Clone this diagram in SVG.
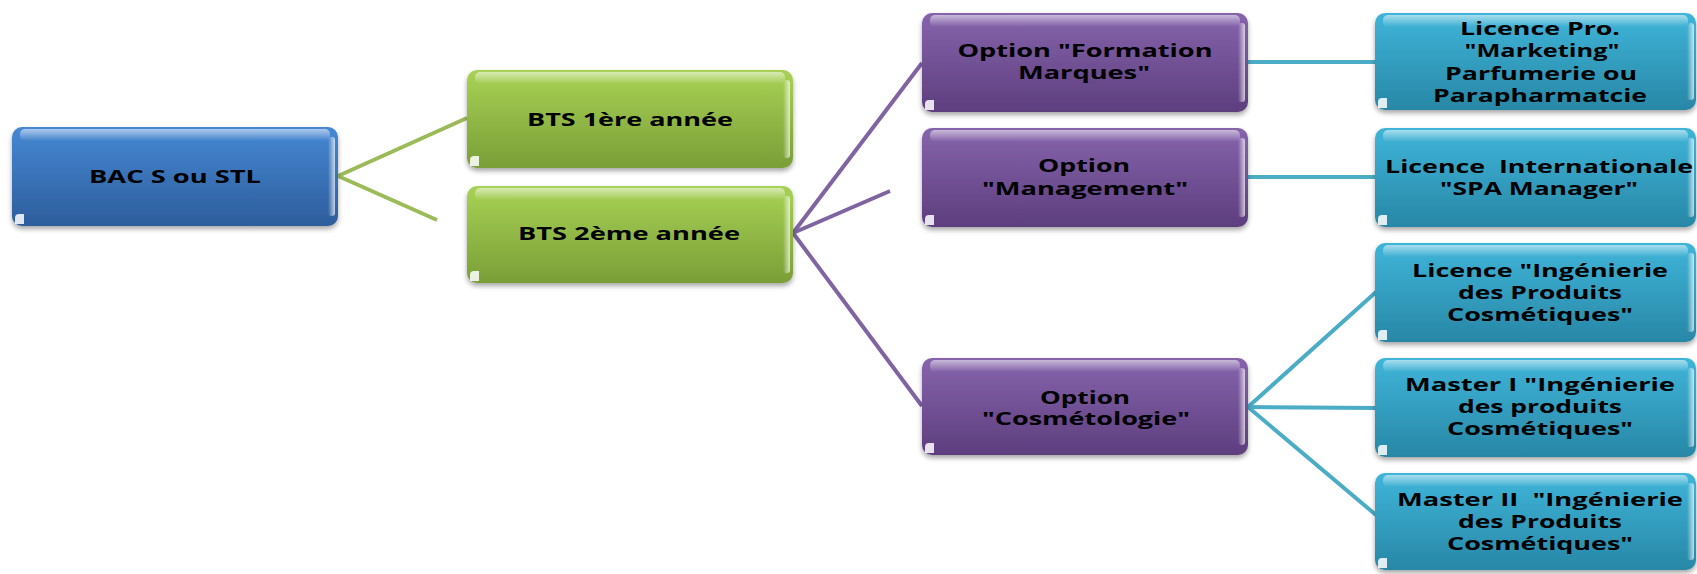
<svg xmlns="http://www.w3.org/2000/svg" width="1697" height="574" viewBox="0 0 1697 574">
<defs>
<linearGradient id="gBlue" x1="0" y1="0" x2="0" y2="1"><stop offset="0" stop-color="#4688d4"/><stop offset="1" stop-color="#2d5d9b"/></linearGradient>
<linearGradient id="gGreen" x1="0" y1="0" x2="0" y2="1"><stop offset="0" stop-color="#a8d255"/><stop offset="1" stop-color="#7a9e37"/></linearGradient>
<linearGradient id="gPurple" x1="0" y1="0" x2="0" y2="1"><stop offset="0" stop-color="#8664ac"/><stop offset="1" stop-color="#5d3e7e"/></linearGradient>
<linearGradient id="gTeal" x1="0" y1="0" x2="0" y2="1"><stop offset="0" stop-color="#3fb5d9"/><stop offset="1" stop-color="#2887a6"/></linearGradient>
<linearGradient id="gHi" x1="0" y1="0" x2="0" y2="1"><stop offset="0" stop-color="#fff" stop-opacity="0.55"/><stop offset="1" stop-color="#fff" stop-opacity="0"/></linearGradient>
<linearGradient id="gSide" x1="0" y1="0" x2="1" y2="0"><stop offset="0" stop-color="#fff" stop-opacity="0"/><stop offset="1" stop-color="#fff" stop-opacity="0.7"/></linearGradient>
<filter id="sh" x="-5%" y="-10%" width="110%" height="130%"><feDropShadow dx="0" dy="3" stdDeviation="2.5" flood-color="#000" flood-opacity="0.35"/></filter>
</defs>
<style>
.box{filter:url(#sh)}
.hi{fill:url(#gHi)}
.side{fill:url(#gSide)}
.notch{fill:#fff;opacity:0.85}
.t{font-family:"Open Sans","DejaVu Sans",sans-serif;font-weight:bold;font-size:18px;fill:#000;text-anchor:middle;white-space:pre}
.cg{stroke:#9bbb59;stroke-width:4;fill:none}
.cp{stroke:#8064a2;stroke-width:4;fill:none}
.ct{stroke:#4bacc6;stroke-width:4;fill:none}
</style>
<g id="connectors">
<line class="cg" x1="338" y1="176" x2="467" y2="118"/>
<line class="cg" x1="338" y1="176" x2="437" y2="220"/>
<line class="cp" x1="793" y1="233" x2="922" y2="63"/>
<line class="cp" x1="793" y1="233" x2="890" y2="191"/>
<line class="cp" x1="793" y1="233" x2="922" y2="406"/>
<line class="ct" x1="1248" y1="62" x2="1376" y2="62"/>
<line class="ct" x1="1248" y1="177" x2="1376" y2="177"/>
<line class="ct" x1="1248" y1="407" x2="1376" y2="292"/>
<line class="ct" x1="1248" y1="407" x2="1376" y2="408"/>
<line class="ct" x1="1248" y1="407" x2="1376" y2="515"/>
</g>
<g id="bac">
<rect class="box" x="12" y="127" width="326" height="99" rx="10" fill="url(#gBlue)"/>
<rect class="hi" x="20" y="129" width="310" height="12" rx="5"/>
<rect class="side" x="328" y="137" width="7" height="79" rx="3"/>
<path class="notch" d="M15 224 L15 218 Q15 214 19 214 L24 214 L24 224 Z"/>
<text class="t" x="175" y="183" textLength="172" lengthAdjust="spacingAndGlyphs">BAC S ou STL</text>
</g>
<g id="bts1">
<rect class="box" x="467" y="70" width="326" height="98" rx="10" fill="url(#gGreen)"/>
<rect class="hi" x="475" y="72" width="310" height="12" rx="5"/>
<rect class="side" x="783" y="80" width="7" height="78" rx="3"/>
<path class="notch" d="M470 166 L470 160 Q470 156 474 156 L479 156 L479 166 Z"/>
<text class="t" x="630" y="126" textLength="206" lengthAdjust="spacingAndGlyphs">BTS 1ère année</text>
</g>
<g id="bts2">
<rect class="box" x="467" y="186" width="326" height="97" rx="10" fill="url(#gGreen)"/>
<rect class="hi" x="475" y="188" width="310" height="12" rx="5"/>
<rect class="side" x="783" y="196" width="7" height="77" rx="3"/>
<path class="notch" d="M470 281 L470 275 Q470 271 474 271 L479 271 L479 281 Z"/>
<text class="t" x="629" y="240" textLength="222" lengthAdjust="spacingAndGlyphs">BTS 2ème année</text>
</g>
<g id="opt-formation">
<rect class="box" x="922" y="13" width="326" height="99" rx="10" fill="url(#gPurple)"/>
<rect class="hi" x="930" y="15" width="310" height="12" rx="5"/>
<rect class="side" x="1238" y="23" width="7" height="79" rx="3"/>
<path class="notch" d="M925 110 L925 104 Q925 100 929 100 L934 100 L934 110 Z"/>
<text class="t" x="1085" y="57" textLength="255" lengthAdjust="spacingAndGlyphs">Option "Formation</text>
<text class="t" x="1084" y="79" textLength="132" lengthAdjust="spacingAndGlyphs">Marques"</text>
</g>
<g id="opt-management">
<rect class="box" x="922" y="128" width="326" height="99" rx="10" fill="url(#gPurple)"/>
<rect class="hi" x="930" y="130" width="310" height="12" rx="5"/>
<rect class="side" x="1238" y="138" width="7" height="79" rx="3"/>
<path class="notch" d="M925 225 L925 219 Q925 215 929 215 L934 215 L934 225 Z"/>
<text class="t" x="1084" y="172" textLength="92" lengthAdjust="spacingAndGlyphs">Option</text>
<text class="t" x="1085" y="195" textLength="206" lengthAdjust="spacingAndGlyphs">"Management"</text>
</g>
<g id="opt-cosmetologie">
<rect class="box" x="922" y="358" width="326" height="97" rx="10" fill="url(#gPurple)"/>
<rect class="hi" x="930" y="360" width="310" height="12" rx="5"/>
<rect class="side" x="1238" y="368" width="7" height="77" rx="3"/>
<path class="notch" d="M925 453 L925 447 Q925 443 929 443 L934 443 L934 453 Z"/>
<text class="t" x="1085" y="404" textLength="90" lengthAdjust="spacingAndGlyphs">Option</text>
<text class="t" x="1086" y="425" textLength="208" lengthAdjust="spacingAndGlyphs">"Cosmétologie"</text>
</g>
<g id="lic-pro">
<rect class="box" x="1375" y="13" width="321" height="97" rx="10" fill="url(#gTeal)"/>
<rect class="hi" x="1383" y="15" width="305" height="12" rx="5"/>
<rect class="side" x="1687" y="23" width="7" height="77" rx="3"/>
<path class="notch" d="M1378 108 L1378 102 Q1378 98 1382 98 L1387 98 L1387 108 Z"/>
<text class="t" x="1540" y="35" textLength="160" lengthAdjust="spacingAndGlyphs">Licence Pro.</text>
<text class="t" x="1542" y="57" textLength="155" lengthAdjust="spacingAndGlyphs">"Marketing"</text>
<text class="t" x="1541" y="80" textLength="192" lengthAdjust="spacingAndGlyphs">Parfumerie ou</text>
<text class="t" x="1540" y="102" textLength="214" lengthAdjust="spacingAndGlyphs">Parapharmatcie</text>
</g>
<g id="lic-int">
<rect class="box" x="1375" y="128" width="321" height="99" rx="10" fill="url(#gTeal)"/>
<rect class="hi" x="1383" y="130" width="305" height="12" rx="5"/>
<rect class="side" x="1687" y="138" width="7" height="79" rx="3"/>
<path class="notch" d="M1378 225 L1378 219 Q1378 215 1382 215 L1387 215 L1387 225 Z"/>
<text class="t" x="1539" y="173" textLength="308" lengthAdjust="spacingAndGlyphs" xml:space="preserve">Licence  Internationale</text>
<text class="t" x="1539" y="195" textLength="198" lengthAdjust="spacingAndGlyphs">"SPA Manager"</text>
</g>
<g id="lic-ing">
<rect class="box" x="1375" y="243" width="321" height="99" rx="10" fill="url(#gTeal)"/>
<rect class="hi" x="1383" y="245" width="305" height="12" rx="5"/>
<rect class="side" x="1687" y="253" width="7" height="79" rx="3"/>
<path class="notch" d="M1378 340 L1378 334 Q1378 330 1382 330 L1387 330 L1387 340 Z"/>
<text class="t" x="1540" y="277" textLength="256" lengthAdjust="spacingAndGlyphs">Licence "Ingénierie</text>
<text class="t" x="1540" y="299" textLength="164" lengthAdjust="spacingAndGlyphs">des Produits</text>
<text class="t" x="1540" y="321" textLength="186" lengthAdjust="spacingAndGlyphs">Cosmétiques"</text>
</g>
<g id="master1">
<rect class="box" x="1375" y="358" width="321" height="99" rx="10" fill="url(#gTeal)"/>
<rect class="hi" x="1383" y="360" width="305" height="12" rx="5"/>
<rect class="side" x="1687" y="368" width="7" height="79" rx="3"/>
<path class="notch" d="M1378 455 L1378 449 Q1378 445 1382 445 L1387 445 L1387 455 Z"/>
<text class="t" x="1540" y="391" textLength="270" lengthAdjust="spacingAndGlyphs">Master I "Ingénierie</text>
<text class="t" x="1540" y="413" textLength="164" lengthAdjust="spacingAndGlyphs">des produits</text>
<text class="t" x="1540" y="435" textLength="186" lengthAdjust="spacingAndGlyphs">Cosmétiques"</text>
</g>
<g id="master2">
<rect class="box" x="1375" y="473" width="321" height="97" rx="10" fill="url(#gTeal)"/>
<rect class="hi" x="1383" y="475" width="305" height="12" rx="5"/>
<rect class="side" x="1687" y="483" width="7" height="77" rx="3"/>
<path class="notch" d="M1378 568 L1378 562 Q1378 558 1382 558 L1387 558 L1387 568 Z"/>
<text class="t" x="1540" y="506" textLength="286" lengthAdjust="spacingAndGlyphs" xml:space="preserve">Master II  "Ingénierie</text>
<text class="t" x="1540" y="528" textLength="164" lengthAdjust="spacingAndGlyphs">des Produits</text>
<text class="t" x="1540" y="550" textLength="186" lengthAdjust="spacingAndGlyphs">Cosmétiques"</text>
</g>
</svg>
